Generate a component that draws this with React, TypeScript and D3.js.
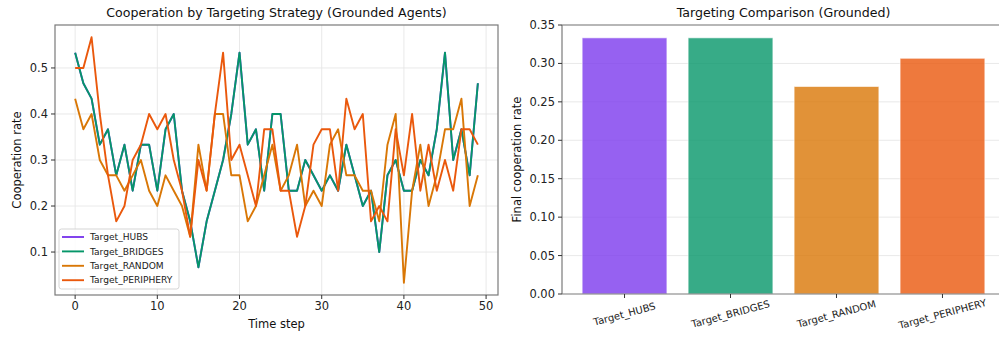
import { useRef, useEffect } from "react";
import * as d3 from "d3";

const svg_width = 999;
const svg_height = 339;
const font = "DejaVu Sans, sans-serif";

const strategies = ["Target_HUBS", "Target_BRIDGES", "Target_RANDOM", "Target_PERIPHERY"];
const colors = ["#7c3aed", "#059669", "#d97706", "#ea580c"];

// cooperation rate per time step (30 agents, so steps of 1/30)
const hubs_rates = [
    0.5333, 0.4667, 0.4333, 0.3333, 0.3667, 0.2667, 0.3333, 0.2333, 0.3333, 0.3333,
    0.2333, 0.3667, 0.4, 0.2333, 0.1667, 0.0667, 0.1667, 0.2333, 0.3, 0.4,
    0.5333, 0.3333, 0.3667, 0.2333, 0.4, 0.4, 0.2333, 0.2333, 0.3, 0.2667,
    0.2333, 0.2667, 0.2333, 0.3333, 0.2667, 0.2, 0.2333, 0.1, 0.2667, 0.3,
    0.2333, 0.2333, 0.3, 0.2667, 0.3667, 0.5333, 0.3, 0.3667, 0.2667, 0.4667,
];
const bridges_rates = [
    0.5333, 0.4667, 0.4333, 0.3333, 0.3667, 0.2667, 0.3333, 0.2333, 0.3333, 0.3333,
    0.2333, 0.3667, 0.4, 0.2333, 0.1667, 0.0667, 0.1667, 0.2333, 0.3, 0.4,
    0.5333, 0.3333, 0.3667, 0.2333, 0.4, 0.4, 0.2333, 0.2333, 0.3, 0.2667,
    0.2333, 0.2667, 0.2333, 0.3333, 0.2667, 0.2, 0.2333, 0.1, 0.2667, 0.3,
    0.2333, 0.2333, 0.3, 0.2667, 0.3667, 0.5333, 0.3, 0.3667, 0.2667, 0.4667,
];
const random_rates = [
    0.4333, 0.3667, 0.4, 0.3, 0.2667, 0.2667, 0.2333, 0.2667, 0.3, 0.2333,
    0.2, 0.2667, 0.2333, 0.2, 0.1333, 0.3333, 0.2333, 0.4, 0.4, 0.2667,
    0.2667, 0.1667, 0.2, 0.2667, 0.3333, 0.2333, 0.2667, 0.3333, 0.2, 0.2333,
    0.2, 0.3333, 0.3667, 0.2667, 0.2667, 0.2333, 0.2333, 0.1667, 0.3333, 0.4,
    0.0333, 0.2333, 0.3333, 0.2, 0.2667, 0.3667, 0.3667, 0.4333, 0.2, 0.2667,
];
const periphery_rates = [
    0.5, 0.5, 0.5667, 0.4, 0.2667, 0.1667, 0.2, 0.3, 0.3333, 0.4,
    0.3667, 0.4, 0.3, 0.2333, 0.1333, 0.3, 0.2333, 0.4, 0.5333, 0.3,
    0.3333, 0.2667, 0.2, 0.3667, 0.3667, 0.2333, 0.2333, 0.1333, 0.2, 0.3333,
    0.3667, 0.3667, 0.2333, 0.4333, 0.3667, 0.4, 0.1667, 0.2, 0.1667, 0.3667,
    0.2667, 0.4, 0.2333, 0.3333, 0.2333, 0.3, 0.2333, 0.3667, 0.3667, 0.3333,
];
const series = [hubs_rates, bridges_rates, random_rates, periphery_rates];

const final_rates = [0.3333, 0.3333, 0.27, 0.3067];

const step_ticks = [0, 10, 20, 30, 40, 50];
const rate_ticks = [0.1, 0.2, 0.3, 0.4, 0.5];
const final_ticks = [0, 0.05, 0.1, 0.15, 0.2, 0.25, 0.3, 0.35];

const spine_color = "#7a7a7a";
const grid_color = "#e6e6e6";
const tick_size = 11.5;
const label_size = 11.5;
const title_size = 12.6;

export default function App() {
    const ref = useRef(null);

    useEffect(() => {
        const destroy = () => {
            d3.select(ref.current).selectAll("*").remove();
        };

        const svg = d3.select(ref.current)
            .append("svg")
                .attr("width", svg_width)
                .attr("height", svg_height)
                .style("position", "absolute")
                .style("left", "0px")
                .style("top", "0px")
                .style("background-color", "white")
                .style("font-family", font);

        // ---------- left: line chart ----------
        const [l_left, l_right, l_top, l_bottom] = [55, 498, 25, 295];
        const n = hubs_rates.length;
        const x_pad = (n - 1) * 0.05;
        const x = d3.scaleLinear()
            .domain([-x_pad, n - 1 + x_pad])
            .range([l_left, l_right]);

        const all_values = series.flat();
        const [v_min, v_max] = d3.extent(all_values) as [number, number];
        const y_pad = (v_max - v_min) * 0.05;
        const y = d3.scaleLinear()
            .domain([v_min - y_pad, v_max + y_pad])
            .range([l_bottom, l_top]);

        const left = svg.append("g");

        left.append("g").selectAll("line")
            .data(step_ticks)
            .join("line")
                .attr("x1", d => x(d)).attr("x2", d => x(d))
                .attr("y1", l_top).attr("y2", l_bottom)
                .attr("stroke", grid_color).attr("stroke-width", 0.9);
        left.append("g").selectAll("line")
            .data(rate_ticks)
            .join("line")
                .attr("x1", l_left).attr("x2", l_right)
                .attr("y1", d => y(d)).attr("y2", d => y(d))
                .attr("stroke", grid_color).attr("stroke-width", 0.9);

        const line = d3.line<number>()
            .x((_, i) => x(i))
            .y(d => y(d));

        series.forEach((s, i) => {
            left.append("path")
                .datum(s)
                .attr("d", line)
                .attr("fill", "none")
                .attr("stroke", colors[i])
                .attr("stroke-width", 1.9)
                .attr("stroke-linejoin", "round");
        });

        left.append("rect")
            .attr("x", l_left).attr("y", l_top)
            .attr("width", l_right - l_left).attr("height", l_bottom - l_top)
            .attr("fill", "none")
            .attr("stroke", spine_color).attr("stroke-width", 1.2);

        // ticks
        left.append("g").selectAll("line")
            .data(step_ticks)
            .join("line")
                .attr("x1", d => x(d)).attr("x2", d => x(d))
                .attr("y1", l_bottom).attr("y2", l_bottom + 4)
                .attr("stroke", "#333").attr("stroke-width", 1);
        left.append("g").selectAll("text")
            .data(step_ticks)
            .join("text")
                .attr("x", d => x(d)).attr("y", l_bottom + 6)
                .attr("dy", "0.76em")
                .attr("text-anchor", "middle")
                .attr("font-size", tick_size)
                .attr("fill", "#222")
                .text(d => d);
        left.append("g").selectAll("line")
            .data(rate_ticks)
            .join("line")
                .attr("x1", l_left - 4).attr("x2", l_left)
                .attr("y1", d => y(d)).attr("y2", d => y(d))
                .attr("stroke", "#333").attr("stroke-width", 1);
        left.append("g").selectAll("text")
            .data(rate_ticks)
            .join("text")
                .attr("x", l_left - 7).attr("y", d => y(d))
                .attr("dy", "0.35em")
                .attr("text-anchor", "end")
                .attr("font-size", tick_size)
                .attr("fill", "#222")
                .text(d => d3.format(".1f")(d));

        left.append("text")
            .attr("x", (l_left + l_right) / 2).attr("y", 328)
            .attr("text-anchor", "middle")
            .attr("font-size", label_size)
            .attr("fill", "#111")
            .text("Time step");
        left.append("text")
            .attr("transform", `translate(21, ${(l_top + l_bottom) / 2}) rotate(-90)`)
            .attr("text-anchor", "middle")
            .attr("font-size", label_size)
            .attr("fill", "#111")
            .text("Cooperation rate");
        left.append("text")
            .attr("x", (l_left + l_right) / 2).attr("y", 17)
            .attr("text-anchor", "middle")
            .attr("font-size", title_size)
            .attr("fill", "#111")
            .text("Cooperation by Targeting Strategy (Grounded Agents)");

        // legend
        const legend = left.append("g").attr("transform", "translate(59, 229)");
        legend.append("rect")
            .attr("width", 120).attr("height", 60)
            .attr("rx", 2.5)
            .attr("fill", "white").attr("fill-opacity", 0.85)
            .attr("stroke", "#d0d0d0").attr("stroke-width", 0.9);
        strategies.forEach((s, i) => {
            const row = legend.append("g").attr("transform", `translate(0, ${8 + i * 14.4})`);
            row.append("line")
                .attr("x1", 3).attr("x2", 25)
                .attr("stroke", colors[i]).attr("stroke-width", 1.9);
            row.append("text")
                .attr("x", 31).attr("dy", "0.35em")
                .attr("font-size", 9.1)
                .attr("fill", "#222")
                .text(s);
        });

        // ---------- right: bar chart ----------
        const [r_left, r_right, r_top, r_bottom] = [562, 1005, 25, 294];
        const bx = d3.scaleLinear()
            .domain([-0.59, strategies.length - 1 + 0.59])
            .range([r_left, r_right]);
        const by = d3.scaleLinear()
            .domain([0, 0.35])
            .range([r_bottom, r_top]);

        const right = svg.append("g");

        right.append("g").selectAll("line")
            .data(final_ticks.slice(1))
            .join("line")
                .attr("x1", r_left).attr("x2", r_right)
                .attr("y1", d => by(d)).attr("y2", d => by(d))
                .attr("stroke", grid_color).attr("stroke-width", 0.9);

        right.append("g").selectAll("rect")
            .data(final_rates)
            .join("rect")
                .attr("x", (_, i) => bx(i - 0.4))
                .attr("width", bx(0.8) - bx(0))
                .attr("y", d => by(d))
                .attr("height", d => by(0) - by(d))
                .attr("fill", (_, i) => colors[i])
                .attr("fill-opacity", 0.8)
                .attr("stroke", "white")
                .attr("stroke-opacity", 0.6)
                .attr("stroke-width", 1);

        right.append("line")
            .attr("x1", r_left).attr("x2", r_left)
            .attr("y1", r_top).attr("y2", r_bottom)
            .attr("stroke", spine_color).attr("stroke-width", 1.2);
        right.append("line")
            .attr("x1", r_left).attr("x2", r_right)
            .attr("y1", r_bottom).attr("y2", r_bottom)
            .attr("stroke", spine_color).attr("stroke-width", 1.2);
        right.append("line")
            .attr("x1", r_left).attr("x2", r_right)
            .attr("y1", r_top).attr("y2", r_top)
            .attr("stroke", spine_color).attr("stroke-width", 1.2);

        right.append("g").selectAll("line")
            .data(final_ticks)
            .join("line")
                .attr("x1", r_left - 4).attr("x2", r_left)
                .attr("y1", d => by(d)).attr("y2", d => by(d))
                .attr("stroke", "#333").attr("stroke-width", 1);
        right.append("g").selectAll("text")
            .data(final_ticks)
            .join("text")
                .attr("x", r_left - 7).attr("y", d => by(d))
                .attr("dy", "0.35em")
                .attr("text-anchor", "end")
                .attr("font-size", tick_size)
                .attr("fill", "#222")
                .text(d => d3.format(".2f")(d));

        right.append("g").selectAll("line")
            .data(strategies)
            .join("line")
                .attr("x1", (_, i) => bx(i)).attr("x2", (_, i) => bx(i))
                .attr("y1", r_bottom).attr("y2", r_bottom + 4)
                .attr("stroke", "#333").attr("stroke-width", 1);
        right.append("g").selectAll("text")
            .data(strategies)
            .join("text")
                .attr("transform", (_, i) => `translate(${bx(i)}, 314) rotate(-15)`)
                .attr("dy", "0.35em")
                .attr("text-anchor", "middle")
                .attr("font-size", 10)
                .attr("fill", "#222")
                .text(d => d);

        right.append("text")
            .attr("transform", `translate(517, ${(r_top + r_bottom) / 2}) rotate(-90)`)
            .attr("dy", "0.35em")
            .attr("text-anchor", "middle")
            .attr("font-size", label_size)
            .attr("fill", "#111")
            .text("Final cooperation rate");
        right.append("text")
            .attr("x", (r_left + r_right) / 2).attr("y", 17)
            .attr("text-anchor", "middle")
            .attr("font-size", title_size)
            .attr("fill", "#111")
            .text("Targeting Comparison (Grounded)");

        return destroy;
    }, [ref]);

    return (
        <div ref={ref} />
    );
}
